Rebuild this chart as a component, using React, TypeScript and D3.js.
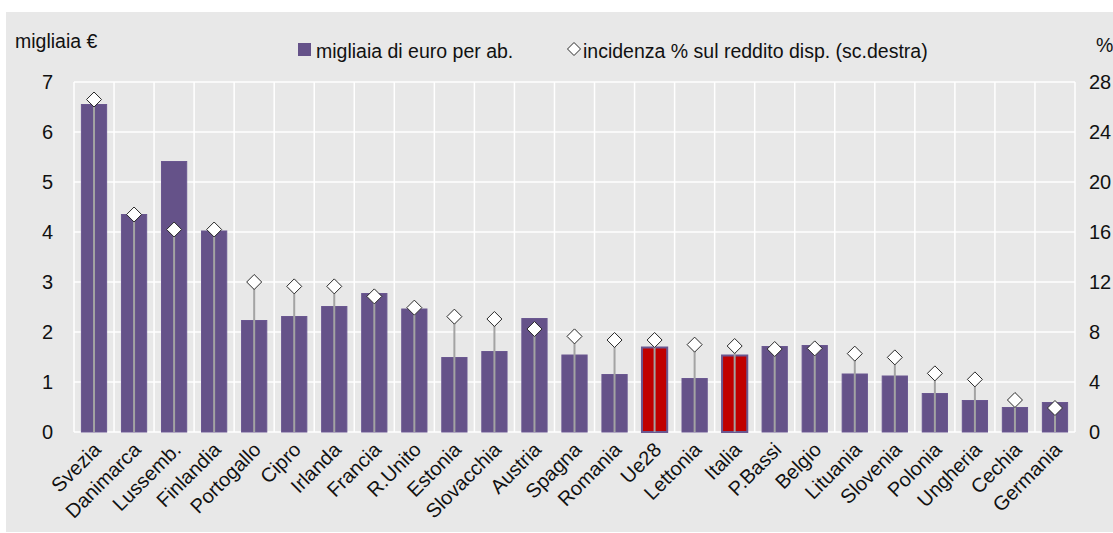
import * as d3 from 'd3';

const countries = [
  'Svezia', 'Danimarca', 'Lussemb.', 'Finlandia', 'Portogallo', 'Cipro', 'Irlanda',
  'Francia', 'R.Unito', 'Estonia', 'Slovacchia', 'Austria', 'Spagna', 'Romania',
  'Ue28', 'Lettonia', 'Italia', 'P.Bassi', 'Belgio', 'Lituania', 'Slovenia',
  'Polonia', 'Ungheria', 'Cechia', 'Germania',
];
// migliaia di euro per abitante (scala sinistra)
const perCapita = [
  6.55, 4.35, 5.41, 4.02, 2.23, 2.31, 2.51, 2.77, 2.46, 1.49, 1.61, 2.27, 1.54, 1.15,
  1.69, 1.07, 1.53, 1.71, 1.73, 1.16, 1.12, 0.77, 0.63, 0.49, 0.59,
];
// incidenza % sul reddito disponibile (scala destra)
const share = [
  26.6, 17.4, 16.2, 16.2, 12.0, 11.65, 11.65, 10.85, 9.95, 9.23, 9.04, 8.24, 7.65, 7.36,
  7.36, 6.99, 6.88, 6.64, 6.69, 6.27, 5.97, 4.69, 4.21, 2.56, 1.92,
];
const highlighted = ['Ue28', 'Italia'];
const leftTicks = [0, 1, 2, 3, 4, 5, 6, 7];
const rightTicks = [0, 4, 8, 12, 16, 20, 24, 28];

const W = 1113;
const H = 533;
const FONT = "'Liberation Sans', Arial, sans-serif";

export default function App() {
  const left = 74, right = 1075, top = 82, bottom = 432;

  const x = d3.scaleBand().domain(countries).range([left, right]).padding(0);
  const y = d3.scaleLinear().domain([0, 7]).range([bottom, top]);
  const y2 = d3.scaleLinear().domain([0, 28]).range([bottom, top]);
  const barW = x.bandwidth() * 0.63;
  const d = 7.5;

  const purple = '#655289';
  const red = '#C00000';

  const diamond = (cx: number, cy: number, r: number) =>
    `M${cx},${cy - r}L${cx + r},${cy}L${cx},${cy + r}L${cx - r},${cy}Z`;

  return (
    <svg width={W} height={H} style={{ position: 'absolute', left: 0, top: 0 }} fontFamily={FONT}>
      <rect x={6} y={12} width={W - 6} height={H - 13} fill="#E8E8E8" />

      {/* grid */}
      {leftTicks.map(t => (
        <line key={'h' + t} x1={left} x2={right} y1={y(t)} y2={y(t)} stroke="#fff" strokeWidth={1.5} />
      ))}
      {countries.map(c => (
        <line key={'v' + c} x1={x(c)} x2={x(c)} y1={top} y2={bottom} stroke="#fff" strokeWidth={1.5} />
      ))}
      <line x1={right} x2={right} y1={top} y2={bottom} stroke="#fff" strokeWidth={1.5} />

      {/* bars */}
      {countries.map((c, i) => {
        const cx = x(c)! + x.bandwidth() / 2;
        const hl = highlighted.includes(c);
        return (
          <rect key={'b' + c} x={cx - barW / 2} y={y(perCapita[i])} width={barW}
            height={bottom - y(perCapita[i])} fill={hl ? red : purple}
            stroke="#6A5790" strokeWidth={hl ? 2 : 1} />
        );
      })}

      {/* drop lines + diamonds */}
      {countries.map((c, i) => {
        const cx = x(c)! + x.bandwidth() / 2;
        return (
          <g key={'d' + c}>
            <line x1={cx} x2={cx} y1={bottom} y2={y2(share[i])} stroke="#A3A3A3" strokeWidth={2} />
            <path d={diamond(cx, y2(share[i]), d)} fill="#fff" stroke="#2a2a2a" strokeWidth={1} />
          </g>
        );
      })}

      {/* left axis */}
      {leftTicks.map(t => (
        <text key={'l' + t} x={53} y={y(t) + 7} textAnchor="end" fontSize={20} fill="#111">{t}</text>
      ))}
      {/* right axis */}
      {rightTicks.map(t => (
        <text key={'r' + t} x={1089} y={y2(t) + 7} textAnchor="start" fontSize={20} fill="#111">{t}</text>
      ))}

      {/* category labels */}
      {countries.map(c => {
        const cx = x(c)! + x.bandwidth() / 2 + 8;
        return (
          <text key={'t' + c} transform={`translate(${cx},${bottom + 19}) rotate(-45)`}
            textAnchor="end" fontSize={20} fill="#111">{c}</text>
        );
      })}

      {/* titles */}
      <text x={15} y={48} fontSize={19.5} fill="#111">migliaia €</text>
      <text x={1096} y={52} fontSize={19.5} fill="#111">%</text>

      {/* legend */}
      <rect x={298} y={43} width={13} height={13} fill={purple} />
      <text x={316} y={58} fontSize={19.5} fill="#111">migliaia di euro per ab.</text>
      <path d={diamond(574, 49, 6.5)} fill="#fff" stroke="#2a2a2a" strokeWidth={1} />
      <text x={583} y={58} fontSize={19.5} fill="#111">incidenza % sul reddito disp. (sc.destra)</text>
    </svg>
  );
}
